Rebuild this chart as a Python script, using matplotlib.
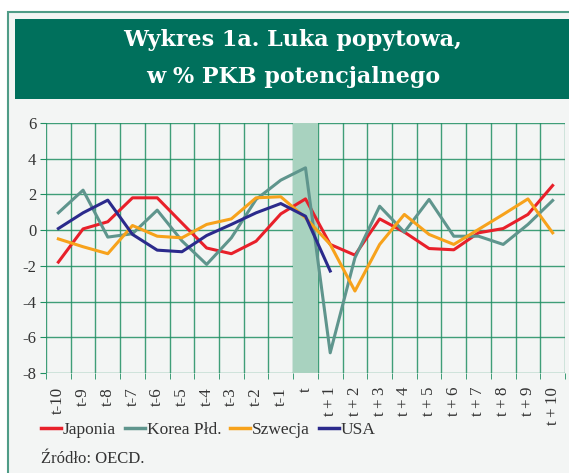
import matplotlib
matplotlib.use("Agg")
import matplotlib.pyplot as plt
from matplotlib.patches import Rectangle
from matplotlib.lines import Line2D

# data
categories = ["t-10", "t-9", "t-8", "t-7", "t-6", "t-5", "t-4", "t-3", "t-2", "t-1", "t",
              "t+1", "t+2", "t+3", "t+4", "t+5", "t+6", "t+7", "t+8", "t+9", "t+10"]
japonia = [-1.79, 0.07, 0.47, 1.81, 1.81, 0.4, -1.0, -1.32, -0.62, 0.91, 1.75,
           -0.8, -1.4, 0.63, -0.11, -1.03, -1.1, -0.15, 0.09, 0.88, 2.5]
korea = [0.97, 2.24, -0.39, -0.2, 1.12, -0.6, -1.92, -0.43, 1.72, 2.8, 3.49,
         -6.87, -1.55, 1.34, -0.11, 1.72, -0.34, -0.34, -0.8, 0.32, 1.66]
szwecja = [-0.49, -0.93, -1.32, 0.26, -0.34, -0.43, 0.32, 0.63, 1.81, 1.87, 0.69,
           -0.8, -3.41, -0.8, 0.88, -0.24, -0.8, 0.04, 0.88, 1.75, -0.15]
usa = [0.09, 0.97, 1.68, -0.24, -1.12, -1.21, -0.3, 0.32, 0.97, 1.49, 0.78, -2.29]
series_names = ["Japonia", "Korea Płd.", "Szwecja", "USA"]
series_colors = ["#e8202a", "#5f958d", "#f7a21b", "#2b2a8c"]
yticks = [6, 4, 2, 0, -2, -4, -6, -8]

W, H = 569, 473
plt.rcParams["font.family"] = ["Liberation Serif", "DejaVu Serif"]

fig = plt.figure(figsize=(W / 100, H / 100), dpi=100, facecolor="white")


def fx(x):
    return x / W


def fy(y):
    return 1 - y / H


# outer frame and title box
fig.patches.append(Rectangle((fx(8), fy(480)), fx(600), fy(12) - fy(480), transform=fig.transFigure,
                             facecolor="#f3f5f4", edgecolor="#4f9c87", linewidth=1.5, zorder=-2))
fig.patches.append(Rectangle((fx(15), fy(99)), fx(600), fy(19) - fy(99), transform=fig.transFigure,
                             facecolor="#00705c", edgecolor="none", zorder=-1))
fig.text(fx(293), fy(40), "Wykres 1a. Luka popytowa,", color="white", fontsize=16,
         fontweight="bold", family="DejaVu Serif", ha="center", va="center")
fig.text(fx(293), fy(77), "w % PKB potencjalnego", color="white", fontsize=16,
         fontweight="bold", family="DejaVu Serif", ha="center", va="center")

ax = fig.add_axes([fx(46), fy(373), fx(565) - fx(46), fy(123) - fy(373)])
ax.set_zorder(2)
ax.set_facecolor("#f3f5f4")
x = list(range(len(categories)))

gridc = "#1f8f62"
for yv in yticks:
    ax.axhline(yv, color=gridc, lw=1, alpha=0.85, zorder=1)
for i in range(len(categories) + 1):
    ax.axvline(i - 0.5, color=gridc, lw=1, alpha=0.85, zorder=1)
ax.axvspan(9.5, 10.5, ymin=0, ymax=1, color="#a8d2bf", zorder=1.5, lw=0)

for vals, c in zip([japonia, korea, szwecja, usa], series_colors):
    ax.plot(x[:len(vals)], vals, color=c, lw=2.2, zorder=3)

ax.set_xlim(-0.5, len(categories) - 0.5)
ax.set_ylim(-8, 6)
ax.set_yticks(yticks)
ax.set_yticklabels([str(v) for v in yticks], fontsize=12, color="#333333")
ax.set_xticks(x)
ax.set_xticklabels([c.replace("+", "\u2009+\u2009") for c in categories], rotation=90,
                   fontsize=12.2, color="#333333", va="top")
ax.set_xticks([i - 0.5 for i in range(len(categories) + 1)], minor=True)
ax.tick_params(axis="x", which="major", length=0, pad=10)
ax.tick_params(axis="x", which="minor", length=4, color=gridc)
ax.tick_params(axis="y", length=4, color=gridc, pad=3)
for s in ax.spines.values():
    s.set_visible(False)

handles = [Line2D([], [], color=c, lw=2.5) for c in series_colors]
fig.legend(handles, series_names, loc="center left", bbox_to_anchor=(fx(41), fy(430)),
           frameon=False, ncol=4, fontsize=12.5, handlelength=1.15, handletextpad=0.12,
           columnspacing=0.5, borderpad=0, borderaxespad=0, labelcolor="#333333")
fig.text(fx(41), fy(459), "Źródło: OECD.", fontsize=12, color="#333333", ha="left", va="center")

fig.savefig("out.png", dpi=100, facecolor="white")
